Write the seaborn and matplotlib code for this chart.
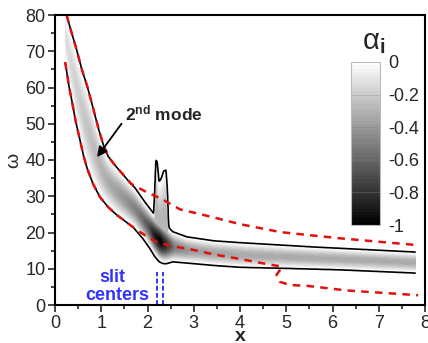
import numpy as np
import matplotlib
matplotlib.use("Agg")
import matplotlib.pyplot as plt
import seaborn as sns

# neutral curve (alpha_i = 0), lower branch
lower_x = [0.22, 0.30, 0.36, 0.45, 0.54, 0.62, 0.70, 0.82, 0.97, 1.15, 1.34, 1.55, 1.70, 1.90, 2.05, 2.15, 2.25, 2.32, 2.40, 2.55, 3.00, 3.44, 4.00, 5.00, 6.16, 7.80]
lower_w = [67.0, 60.5, 56.6, 50.5, 45.5, 41.0, 37.5, 33.5, 29.8, 27.0, 24.8, 22.8, 21.3, 18.3, 15.6, 13.5, 12.0, 11.5, 11.4, 11.9, 11.4, 10.9, 10.4, 10.1, 9.7, 8.8]
# upper branch (without the spike at the slits)
upper_x = [0.22, 0.25, 0.35, 0.47, 0.58, 0.70, 0.82, 0.95, 1.05, 1.15, 1.30, 1.45, 1.63, 1.73, 1.95, 2.16, 2.55, 2.85, 3.44, 4.00, 5.60, 7.80]
upper_w = [82.0, 80.0, 75.5, 70.3, 65.0, 60.2, 54.5, 48.2, 44.0, 41.0, 38.5, 36.3, 33.6, 32.3, 28.3, 24.8, 20.2, 18.8, 17.7, 17.2, 16.0, 14.6]
# spike above the slits
spike_x = [2.13, 2.16, 2.18, 2.21, 2.25, 2.30, 2.35, 2.40, 2.43, 2.46, 2.52]
spike_w = [24.8, 33.0, 40.0, 39.5, 34.0, 35.0, 37.0, 37.2, 32.0, 21.5, 20.4]
# min alpha_i across the band
depth_x = [0.22, 0.6, 1.0, 1.5, 1.8, 2.0, 2.15, 2.28, 2.4, 2.6, 3.0, 4.0, 7.8]
depth_v = [0.14, 0.22, 0.3, 0.42, 0.52, 0.66, 0.9, 1.0, 0.85, 0.5, 0.38, 0.34, 0.34]

# red dashed curves
red_up_x = [0.25, 0.35, 0.47, 0.58, 0.70, 0.82, 0.95, 1.05, 1.15, 1.30, 1.45, 1.65, 2.00, 2.27, 2.70, 3.42, 4.00, 4.88, 6.16, 7.85]
red_up_w = [80.0, 75.5, 70.3, 65.0, 60.2, 54.5, 48.2, 44.0, 41.0, 38.5, 36.3, 33.4, 31.0, 29.5, 26.4, 24.2, 22.3, 20.1, 18.4, 16.5]
red_lo_x = [0.22, 0.30, 0.36, 0.45, 0.54, 0.62, 0.70, 0.82, 0.97, 1.15, 1.34, 1.55, 1.77, 2.00, 2.20, 2.50, 2.92, 3.42, 4.00, 4.58, 4.90, 4.86, 4.79, 4.86, 5.08, 5.44, 6.32, 7.85]
red_lo_w = [67.0, 60.5, 56.6, 50.5, 45.5, 41.0, 37.5, 33.5, 29.8, 27.0, 24.8, 22.8, 20.7, 18.8, 17.4, 16.3, 15.4, 14.0, 12.7, 11.3, 10.6, 9.6, 8.3, 6.4, 5.5, 5.3, 4.0, 2.7]

slit_x = [2.20, 2.34]
cbar_ticks = [0, -0.2, -0.4, -0.6, -0.8, -1]
cbar_labels = ["0", "-0.2", "-0.4", "-0.6", "-0.8", "-1"]

sns.set_style("ticks")
plt.rcParams['font.family'] = ['Liberation Sans', 'DejaVu Sans']
plt.rcParams['mathtext.fontset'] = 'custom'
plt.rcParams['mathtext.rm'] = 'Liberation Sans'
plt.rcParams['mathtext.it'] = 'Liberation Sans:italic'
plt.rcParams['mathtext.bf'] = 'Liberation Sans:bold'

# build the alpha_i field from the band edges
xg = np.linspace(0.22, 7.8, 760)
wg = np.linspace(0, 90, 901)
X, W = np.meshgrid(xg, wg)
lo = np.interp(xg, lower_x, lower_w)
up = np.interp(xg, upper_x, upper_w)
dp = np.interp(xg, depth_x, depth_v)
t = (W - lo) / (up - lo)
g = 4 * t * (1 - t)
A = -dp * np.sign(g) * np.abs(g) ** 1.5
sp = np.interp(xg, spike_x, spike_w)
in_sp = (xg >= spike_x[0]) & (xg <= spike_x[-1])
ts = (W - lo) / (sp - lo)
gs = 4 * ts * (1 - ts)
As = np.where(in_sp, -0.3 * np.sign(gs) * np.abs(gs) ** 1.5, 10)
A = np.minimum(A, As)

fig = plt.figure(figsize=(4.28, 3.43), dpi=100)
ax = fig.add_axes([55/428, 38/343, 370/428, 290/343])

cf = ax.contourf(X, W, A, levels=np.linspace(-1, 0, 51), cmap='gray', vmin=-1, vmax=0)
ax.contour(X, W, A, levels=[0], colors='k', linewidths=1.2)

sns.lineplot(x=red_up_x, y=red_up_w, sort=False, estimator=None, color='#e01010', lw=1.8, ax=ax)
sns.lineplot(x=red_lo_x, y=red_lo_w, sort=False, estimator=None, color='#e01010', lw=1.8, ax=ax)
for ln in ax.lines[-2:]:
    ln.set_dashes((3, 2.5))

for sx in slit_x:
    ax.plot([sx, sx], [0, 9], color='#3333ff', lw=1.4, dashes=(2.5, 1.2))

ax.text(1.24, 6.3, 'slit', color='#3333ff', fontsize=13, fontweight='bold', ha='center', va='baseline')
ax.text(1.35, 1.4, 'centers', color='#3333ff', fontsize=13, fontweight='bold', ha='center', va='baseline')

ax.annotate(r'$\mathbf{2^{nd}}$ mode', xy=(0.91, 40.8), xytext=(1.51, 51), fontsize=12.5,
            fontweight='bold', ha='left', va='baseline',
            arrowprops=dict(arrowstyle='-|>', color='k', lw=1.3, mutation_scale=15,
                            shrinkA=0, shrinkB=0, relpos=(0, 0.2)))

ax.set_xlim(0, 8)
ax.set_ylim(0, 80)
ax.set_xticks(range(0, 9))
ax.set_yticks(range(0, 81, 10))
ax.set_xticks(np.arange(0, 8.01, 0.5), minor=True)
ax.set_yticks(range(0, 81, 5), minor=True)
ax.tick_params(which='both', direction='out', width=1.2, labelsize=13, pad=2)
ax.tick_params(which='major', length=5)
ax.tick_params(which='minor', length=3)
for s in ax.spines.values():
    s.set_linewidth(1.5)
    s.set_color('k')
ax.set_xlabel('x', fontsize=14, fontweight='bold', labelpad=-3)
ax.set_ylabel('ω', fontsize=14, labelpad=2)

cax = fig.add_axes([351/428, (343-225)/343, 29/428, 163/343])
cbar = fig.colorbar(cf, cax=cax, ticks=cbar_ticks)
cbar.ax.set_yticklabels(cbar_labels)
cbar.ax.tick_params(length=0, labelsize=13, pad=6)
cbar.outline.set_edgecolor('#bbbbbb')
cbar.outline.set_linewidth(0.8)
for v in cbar_ticks[1:-1]:
    cbar.ax.axhline(v, color='#888888', lw=0.5, alpha=0.5)
fig.text(362/428, 1 - 42/343, r'$\mathrm{\alpha}_\mathbf{i}$', fontsize=21, ha='left', va='center')

fig.savefig('out.png', dpi=100)
